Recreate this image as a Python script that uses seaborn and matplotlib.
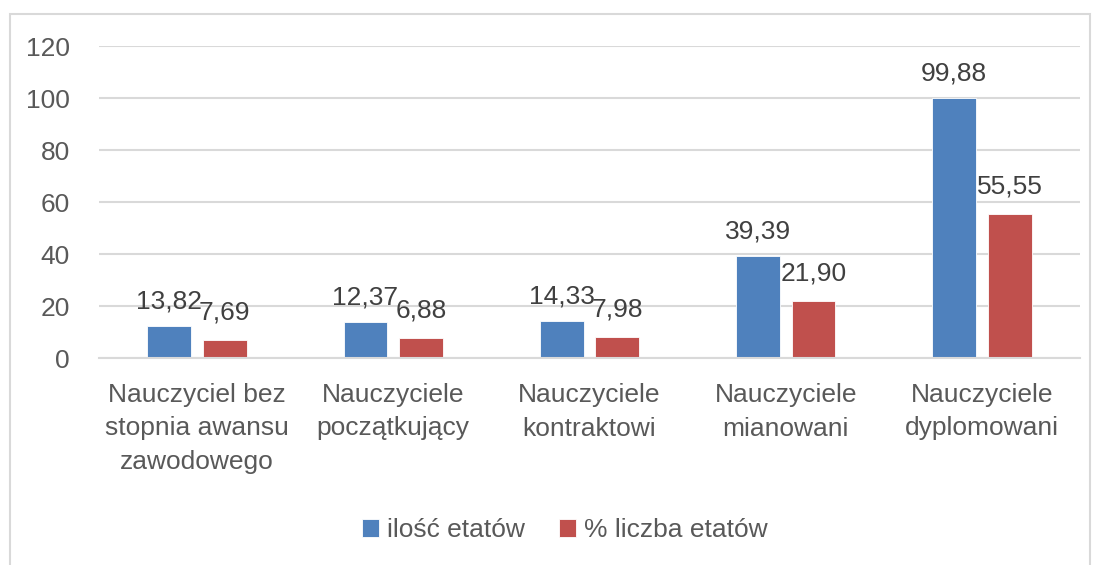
import numpy as np
import pandas as pd
import seaborn as sns
import matplotlib.pyplot as plt
from matplotlib.patches import Rectangle

categories = [
    "Nauczyciel bez\nstopnia awansu\nzawodowego",
    "Nauczyciele\npoczątkujący",
    "Nauczyciele\nkontraktowi",
    "Nauczyciele\nmianowani",
    "Nauczyciele\ndyplomowani",
]
series = ["ilość etatów", "% liczba etatów"]
# bar heights as drawn in the picture
etaty = [12.37, 13.82, 14.33, 39.39, 99.88]
procent = [6.88, 7.69, 7.98, 21.90, 55.55]
# value labels as printed in the picture
etaty_labels = ["13,82", "12,37", "14,33", "39,39", "99,88"]
procent_labels = ["7,69", "6,88", "7,98", "21,90", "55,55"]
y_ticks = [0, 20, 40, 60, 80, 100, 120]

BLUE = "#4F81BD"
RED = "#C0504D"
GRID = "#D9D9D9"
FS = 19

sns.set_theme(style="white")
plt.rcParams['font.family'] = ['Liberation Sans', 'DejaVu Sans']

df = pd.DataFrame({
    "kategoria": categories * 2,
    "seria": [series[0]] * 5 + [series[1]] * 5,
    "wartosc": etaty + procent,
})

fig = plt.figure(figsize=(10.97, 5.65), dpi=100)
ax = fig.add_axes([99 / 1097, 1 - 358 / 565, (1080 - 99) / 1097, (358 - 46) / 565])

sns.barplot(data=df, x="kategoria", y="wartosc", hue="seria", hue_order=series,
            palette=[BLUE, RED], width=0.566, gap=0.21, ax=ax,
            edgecolor="white", linewidth=0.6, saturation=1)

ax.set_ylim(0, 120)
ax.set_yticks(y_ticks)
ax.set_yticklabels([str(t) for t in y_ticks])
ax.yaxis.grid(True, color=GRID, linewidth=1.5)
ax.set_axisbelow(True)
for s in ["top", "right", "left"]:
    ax.spines[s].set_visible(False)
ax.spines["bottom"].set_color(GRID)
ax.spines["bottom"].set_linewidth(1.5)
ax.tick_params(axis="y", length=0, pad=21, labelsize=FS, labelcolor="#595959")
ax.tick_params(axis="x", length=0, pad=18, labelsize=FS, labelcolor="#595959")
for lbl in ax.get_xticklabels():
    lbl.set_linespacing(1.5)
ax.set_xlabel("")
ax.set_ylabel("")

# value labels above bars
for cont, labs, pad in zip(ax.containers, [etaty_labels, procent_labels], [9, 11]):
    ax.bar_label(cont, labels=labs, padding=pad, fontsize=FS, color="#404040")

handles, labels = ax.get_legend_handles_labels()
ax.get_legend().remove()
fig.legend(handles, labels, loc="center", bbox_to_anchor=(565 / 1097, 1 - 530 / 565),
           ncol=2, frameon=False, fontsize=FS, labelcolor="#595959",
           handlelength=0.65, handleheight=0.65, handletextpad=0.3, columnspacing=1.3)

# chart area border
fig.patches.append(Rectangle((10 / 1097, -0.05), (1090 - 10) / 1097, 1 - 14 / 565 + 0.05,
                             transform=fig.transFigure, fill=False,
                             edgecolor=GRID, linewidth=1.5))

fig.savefig("out.png", dpi=100, facecolor="white")
